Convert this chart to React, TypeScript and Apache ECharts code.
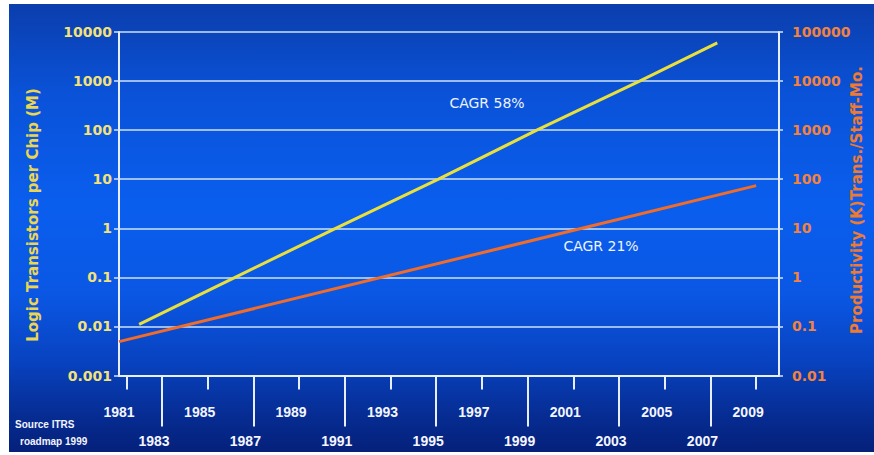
import React, { useEffect, useRef } from "react";
import * as echarts from "echarts";

// ---- data ----
const xTicksUpper = [1981, 1985, 1989, 1993, 1997, 2001, 2005, 2009];
const xTicksLower = [1983, 1987, 1991, 1995, 1999, 2003, 2007];
const leftTickLabels = ["0.001", "0.01", "0.1", "1", "10", "100", "1000", "10000"];
const rightTickLabels = ["0.01", "0.1", "1", "10", "100", "1000", "10000", "100000"];

const transistorYears = [1982.0, 1986.2, 1990.6, 1995.1, 1999.4, 2003.9, 2007.3];
const transistorValues = [0.011, 0.1, 1, 10, 100, 1000, 6000];

const productivityYears = [1981.12, 2009];
const productivityValues = [0.049, 74];

const X_MIN = 1981.12;
const X_MAX = 2010.0;
// the first tick of the reference sits inside the plot edge
const upperTickPositions = xTicksUpper.map((y) => (y === 1981 ? 1981.47 : y));

const FONT = "DejaVu Sans";
const YEAR_FONT = "Liberation Sans";

export default function App() {
  const ref = useRef<HTMLDivElement>(null);

  useEffect(() => {
    if (!ref.current) return;
    const chart = echarts.init(ref.current, null, { renderer: "svg" });

    const yearLabel = (margin: number, values: number[]) => ({
      show: true,
      customValues: values,
      margin,
      color: "#f4f6ff",
      fontFamily: YEAR_FONT,
      fontWeight: "bold",
      fontSize: 14,
      padding: [0, 16, 0, 0],
      formatter: (v: number) => String(Math.round(v)),
    });

    const option: any = {
      animation: false,
      backgroundColor: "transparent",
      grid: { left: 119, right: 95, top: 32, bottom: 79.5, containLabel: false },
      xAxis: [
        {
          type: "value",
          min: X_MIN,
          max: X_MAX,
          position: "bottom",
          axisLine: { show: true, lineStyle: { color: "#e6eeff", width: 2 } },
          axisTick: {
            show: true,
            customValues: upperTickPositions,
            length: 14,
            lineStyle: { color: "#e6eeff", width: 2 },
          },
          axisLabel: yearLabel(29, upperTickPositions),
          splitLine: { show: false },
        },
        {
          type: "value",
          min: X_MIN,
          max: X_MAX,
          position: "bottom",
          axisLine: { show: false },
          axisTick: {
            show: true,
            customValues: xTicksLower,
            length: 51,
            lineStyle: { color: "#e6eeff", width: 2 },
          },
          axisLabel: yearLabel(58.5, xTicksLower),
          splitLine: { show: false },
        },
      ],
      yAxis: [
        {
          type: "log",
          logBase: 10,
          min: 0.001,
          max: 10000,
          position: "left",
          axisLine: { show: true, lineStyle: { color: "#e6eeff", width: 2 } },
          axisTick: { show: true, length: 5, lineStyle: { color: "#d2e4fc", width: 1.5 } },
          axisLabel: {
            margin: 7,
            color: "#f3e27a",
            fontFamily: FONT,
            fontWeight: "bold",
            fontSize: 14,
            formatter: (v: number) => leftTickLabels[Math.round(Math.log10(v)) + 3],
          },
          splitLine: { show: true, lineStyle: { color: "#cde2fb", width: 1.6 } },
          minorSplitLine: { show: false },
        },
        {
          type: "log",
          logBase: 10,
          min: 0.01,
          max: 100000,
          position: "right",
          axisLine: { show: true, lineStyle: { color: "#e6eeff", width: 2 } },
          axisTick: { show: true, length: 4, lineStyle: { color: "#d2e4fc", width: 1.5 } },
          axisLabel: {
            margin: 13,
            color: "#f2823e",
            fontFamily: FONT,
            fontWeight: "bold",
            fontSize: 14,
            formatter: (v: number) => rightTickLabels[Math.round(Math.log10(v)) + 2],
          },
          splitLine: { show: false },
        },
      ],
      series: [
        {
          type: "line",
          name: "Logic Transistors per Chip",
          xAxisIndex: 0,
          yAxisIndex: 0,
          data: transistorYears.map((y, i) => [y, transistorValues[i]]),
          showSymbol: false,
          symbol: "none",
          lineStyle: { color: "#e9e03c", width: 3 },
          z: 5,
        },
        {
          type: "line",
          name: "Productivity",
          xAxisIndex: 0,
          yAxisIndex: 1,
          data: productivityYears.map((y, i) => [y, productivityValues[i]]),
          showSymbol: false,
          symbol: "none",
          lineStyle: { color: "#f06c28", width: 3 },
          z: 5,
        },
      ],
      graphic: [
        {
          type: "text",
          x: 33,
          y: 215,
          rotation: Math.PI / 2,
          style: {
            text: "Logic Transistors per Chip (M)",
            fill: "#ecd650",
            font: `bold 15px '${FONT}'`,
            align: "center",
            verticalAlign: "middle",
          },
        },
        {
          type: "text",
          x: 857,
          y: 200,
          rotation: Math.PI / 2,
          style: {
            text: "Productivity (K)Trans./Staff-Mo.",
            fill: "#f07a30",
            font: `bold 15px '${FONT}'`,
            align: "center",
            verticalAlign: "middle",
          },
        },
        {
          type: "text",
          x: 487,
          y: 103,
          style: {
            text: "CAGR 58%",
            fill: "#eef3ff",
            font: `14px '${FONT}'`,
            align: "center",
            verticalAlign: "middle",
          },
        },
        {
          type: "text",
          x: 601,
          y: 246,
          style: {
            text: "CAGR 21%",
            fill: "#eef3ff",
            font: `14px '${FONT}'`,
            align: "center",
            verticalAlign: "middle",
          },
        },
        {
          type: "text",
          x: 15,
          y: 424,
          style: {
            text: "Source ITRS",
            fill: "#f2f5ff",
            font: `bold 10px '${YEAR_FONT}'`,
            align: "left",
            verticalAlign: "middle",
          },
        },
        {
          type: "text",
          x: 20,
          y: 441,
          style: {
            text: "roadmap 1999",
            fill: "#f2f5ff",
            font: `bold 10px '${YEAR_FONT}'`,
            align: "left",
            verticalAlign: "middle",
          },
        },
      ],
    };

    chart.setOption(option);
    return () => chart.dispose();
  }, []);

  return (
    <div style={{ position: "fixed", left: 0, top: 0, width: 874, height: 455, background: "#ffffff" }}>
      <div
        style={{
          position: "absolute",
          left: 9,
          top: 4,
          width: 865,
          height: 448,
          background:
            "linear-gradient(to bottom, #0b3ead 0%, #0a52d8 20%, #0a5eee 45%, #0a57e4 65%, #0842bf 80%, #062c92 92%, #05207a 100%)",
        }}
      />
      <div ref={ref} style={{ position: "absolute", left: 0, top: 0, width: 874, height: 455 }} />
    </div>
  );
}
